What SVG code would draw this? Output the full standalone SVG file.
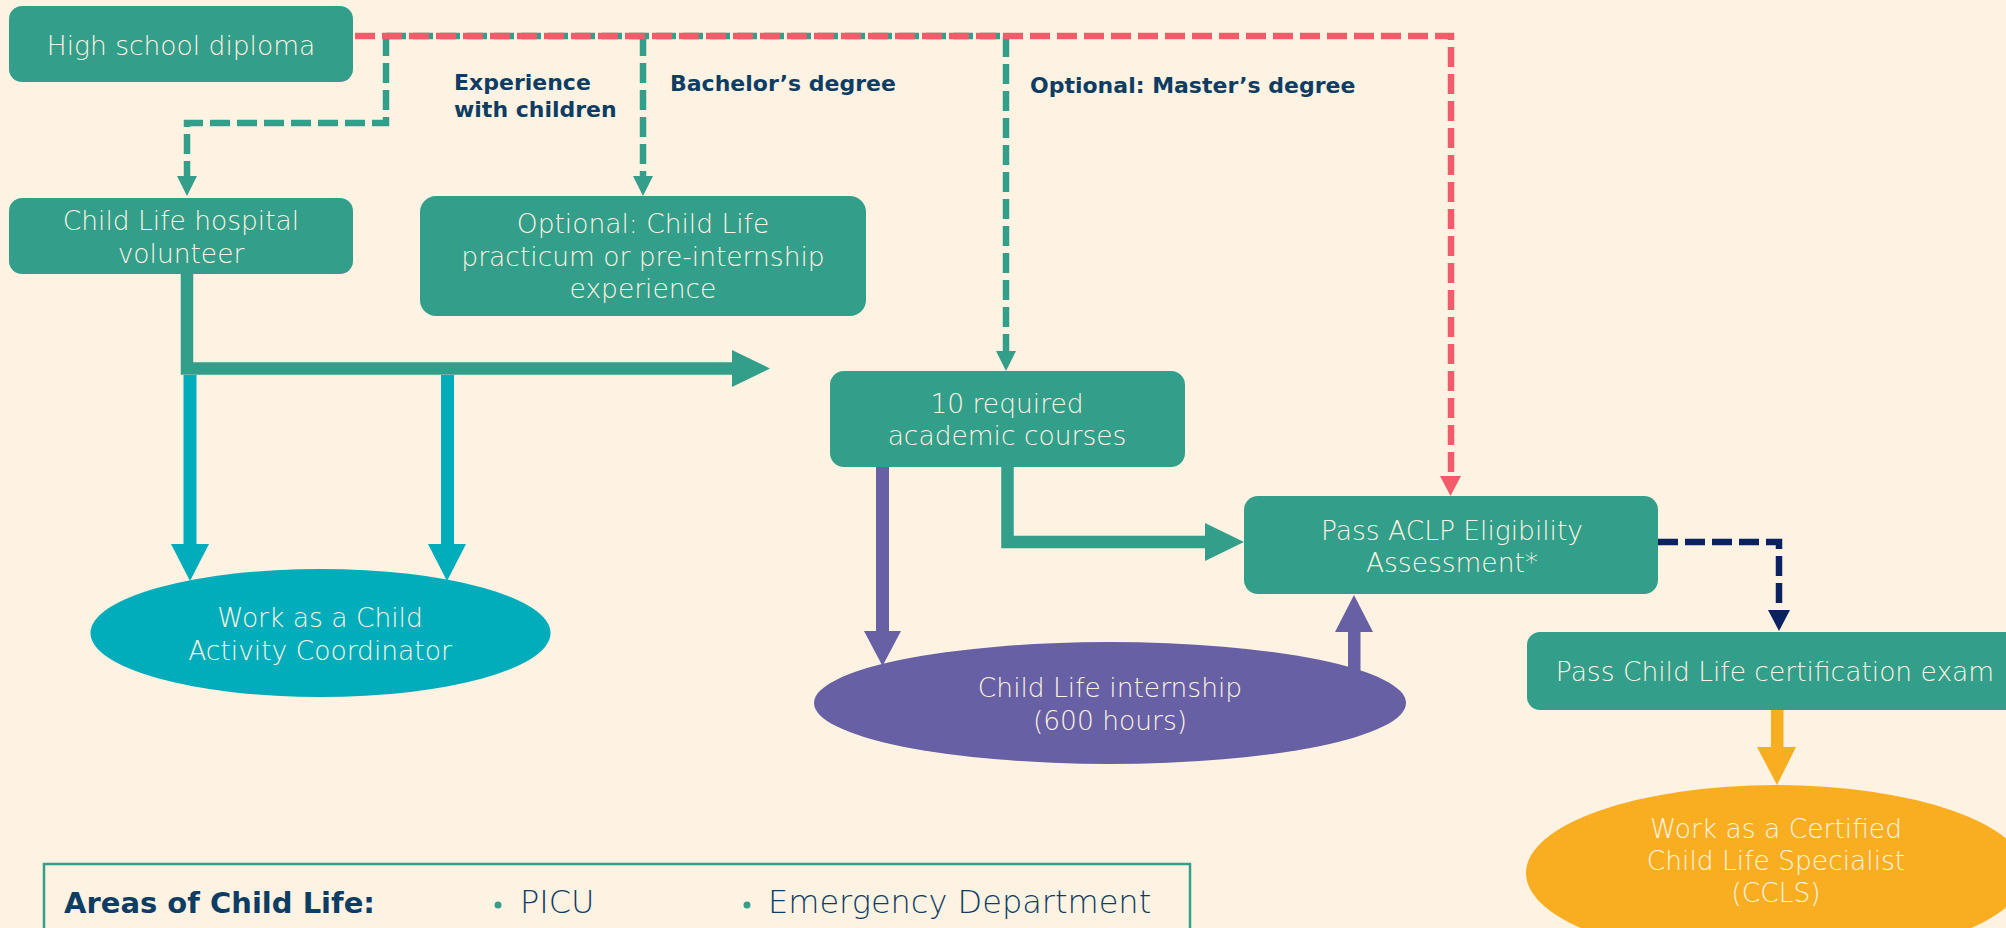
<svg xmlns="http://www.w3.org/2000/svg" width="2006" height="928" viewBox="0 0 2006 928">
<style>
.bg{fill:#fef3e2}
.box{fill:#339e8a}
.nt{font-family:"DejaVu Sans","Open Sans",sans-serif;font-weight:200;font-size:26.5px;fill:#fdf3e1;text-anchor:middle}
.lbl{font-family:"DejaVu Sans","Liberation Sans",sans-serif;font-weight:bold;font-size:22px;fill:#0e3d63}
.dash{fill:none;stroke-width:6.5;stroke-dasharray:20 7}
.leg{font-family:"DejaVu Sans","Open Sans",sans-serif;font-weight:200;font-size:32px;fill:#0e3d63}
</style>
<rect class="bg" x="0" y="0" width="2006" height="928"/>

<g id="connectors">
  <path class="dash" stroke="#339e8a" d="M386,36 V123 H187 V178"/>
  <polygon fill="#339e8a" points="177,176 197,176 187,196"/>
  <path class="dash" stroke="#339e8a" d="M643,36 V178"/>
  <polygon fill="#339e8a" points="633,176 653,176 643,196"/>
  <path class="dash" stroke="#339e8a" d="M386,36 H1006 V353"/>
  <polygon fill="#339e8a" points="996,351 1016,351 1006,371"/>
  <path class="dash" stroke="#f25c6a" d="M355,36 H1451 V478"/>
  <polygon fill="#f25c6a" points="1440,476 1461,476 1450.5,496"/>
  <path class="dash" stroke="#0b2262" stroke-width="7" d="M1658,542 H1779 V612"/>
  <polygon fill="#0b2262" points="1768,610 1790,610 1779,631"/>
  <path fill="none" stroke="#339e8a" stroke-width="12.5" d="M187,274 V368.5 H734"/>
  <polygon fill="#339e8a" points="732,350 770,368.5 732,387"/>
  <rect x="183.5" y="375" width="13" height="171" fill="#02adbb"/>
  <polygon fill="#02adbb" points="171,544 209,544 190,581"/>
  <rect x="441" y="375" width="13" height="171" fill="#02adbb"/>
  <polygon fill="#02adbb" points="428,544 466,544 447,581"/>
  <rect x="876" y="467" width="13" height="166" fill="#6760a5"/>
  <polygon fill="#6760a5" points="864,631 901,631 882.5,666"/>
  <rect x="1348" y="630" width="12.5" height="45" fill="#6760a5"/>
  <polygon fill="#6760a5" points="1335,632 1373,632 1354,595"/>
  <path fill="none" stroke="#339e8a" stroke-width="12.5" d="M1007.5,467 V542 H1207"/>
  <polygon fill="#339e8a" points="1205,523 1244,542 1205,561"/>
  <rect x="1771" y="710" width="12.5" height="39" fill="#f9ae21"/>
  <polygon fill="#f9ae21" points="1757,747 1796,747 1777,785"/>
</g>

<g id="labels">
  <text class="lbl" x="454" y="90">Experience</text>
  <text class="lbl" x="454" y="117">with children</text>
  <text class="lbl" x="670" y="91">Bachelor’s degree</text>
  <text class="lbl" x="1030" y="93">Optional: Master’s degree</text>
</g>

<g id="n-highschool">
  <rect class="box" x="9" y="6" width="344" height="76" rx="13"/>
  <text class="nt" x="181" y="55">High school diploma</text>
</g>
<g id="n-volunteer">
  <rect class="box" x="9" y="198" width="344" height="76" rx="13"/>
  <text class="nt" x="181" y="230">Child Life hospital</text>
  <text class="nt" x="181" y="263">volunteer</text>
</g>
<g id="n-practicum">
  <rect class="box" x="420" y="196" width="446" height="120" rx="16"/>
  <text class="nt" x="643" y="233">Optional: Child Life</text>
  <text class="nt" x="643" y="266">practicum or pre-internship</text>
  <text class="nt" x="643" y="298">experience</text>
</g>
<g id="n-courses">
  <rect class="box" x="830" y="371" width="355" height="96" rx="14"/>
  <text class="nt" x="1007" y="413">10 required</text>
  <text class="nt" x="1007" y="445">academic courses</text>
</g>
<g id="n-aclp">
  <rect class="box" x="1244" y="496" width="414" height="98" rx="14"/>
  <text class="nt" x="1452" y="540">Pass ACLP Eligibility</text>
  <text class="nt" x="1452" y="572">Assessment*</text>
</g>
<g id="n-activity">
  <ellipse cx="320.5" cy="633" rx="230" ry="64" fill="#02adbb"/>
  <text class="nt" x="320" y="627">Work as a Child</text>
  <text class="nt" x="320" y="660">Activity Coordinator</text>
</g>
<g id="n-internship">
  <ellipse cx="1110" cy="703" rx="296" ry="61" fill="#6760a5"/>
  <text class="nt" x="1110" y="697">Child Life internship</text>
  <text class="nt" x="1110" y="730">(600 hours)</text>
</g>
<g id="n-exam">
  <rect class="box" x="1527" y="632" width="500" height="78" rx="13"/>
  <text class="nt" x="1775" y="681">Pass Child Life certification exam</text>
</g>
<g id="n-ccls">
  <ellipse cx="1776" cy="873" rx="250" ry="88" fill="#f9ae21"/>
  <text class="nt" x="1776" y="838">Work as a Certified</text>
  <text class="nt" x="1776" y="870">Child Life Specialist</text>
  <text class="nt" x="1776" y="902">(CCLS)</text>
</g>
<g id="legend">
  <rect x="44" y="864" width="1146" height="100" fill="none" stroke="#339e8a" stroke-width="2.5"/>
  <text x="64" y="913" font-family="DejaVu Sans, Liberation Sans, sans-serif" font-weight="bold" font-size="29" fill="#0e3d63">Areas of Child Life:</text>
  <circle cx="498" cy="905" r="3.5" fill="#339e8a"/>
  <text class="leg" x="520" y="913">PICU</text>
  <circle cx="747" cy="905" r="3.5" fill="#339e8a"/>
  <text class="leg" x="768" y="913">Emergency Department</text>
</g>
</svg>
